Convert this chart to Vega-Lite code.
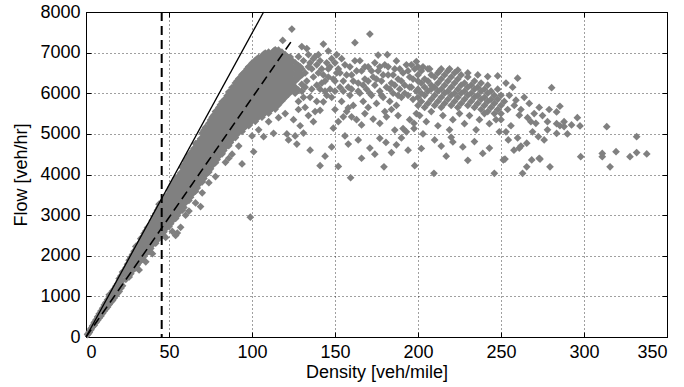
{
"$schema": "https://vega.github.io/schema/vega-lite/v6.json",
"autosize": {"type": "none"},
"width": 581,
"height": 325,
"padding": {"left": 86, "top": 12, "right": 17, "bottom": 50},
"background": "white",
"config": {
  "view": {"stroke": "#000", "strokeWidth": 1},
  "axis": {"labelFont": "Liberation Sans", "titleFont": "Liberation Sans", "labelFontSize": 18, "titleFontSize": 18, "titleFontWeight": "normal", "labelColor": "#000", "titleColor": "#000", "domainColor": "#000", "tickColor": "#000", "gridColor": "#000", "gridDash": [1, 3], "gridOpacity": 0.75, "gridWidth": 1, "format": "d"}
},
"datasets": {
"pts": [
{"d":1,"f":60},{"d":1,"f":70},{"d":2,"f":130},{"d":2,"f":110},{"d":3,"f":180},{"d":3,"f":210},{"d":4,"f":250},{"d":4,"f":280},{"d":5,"f":290},{"d":5,"f":340},{"d":5,"f":360},{"d":6,"f":360},{"d":6,"f":420},{"d":7,"f":410},{"d":7,"f":460},{"d":7,"f":500},{"d":8,"f":470},{"d":8,"f":530},{"d":8,"f":570},{"d":9,"f":520},{"d":9,"f":590},{"d":9,"f":640},{"d":10,"f":580},{"d":10,"f":650},{"d":10,"f":710},{"d":11,"f":640},{"d":11,"f":720},{"d":11,"f":790},{"d":12,"f":690},{"d":12,"f":770},{"d":12,"f":850},{"d":13,"f":740},{"d":13,"f":830},{"d":13,"f":920},{"d":14,"f":800},{"d":14,"f":890},{"d":14,"f":990},{"d":15,"f":860},{"d":15,"f":950},{"d":15,"f":1060},{"d":16,"f":900},{"d":16,"f":1010},{"d":16,"f":1130},{"d":17,"f":960},{"d":17,"f":1070},{"d":17,"f":1180},{"d":18,"f":1020},{"d":18,"f":1130},{"d":18,"f":1250},{"d":19,"f":1080},{"d":19,"f":1190},{"d":19,"f":1310},{"d":20,"f":1120},{"d":20,"f":1250},{"d":20,"f":1380},{"d":21,"f":1200},{"d":21,"f":1330},{"d":21,"f":1500},
{"d":22,"f":1260},{"d":22,"f":1400},{"d":22,"f":1540},{"d":22,"f":1600},
{"d":24,"f":1420},{"d":24,"f":1560},{"d":24,"f":1700},
{"d":26,"f":1480},{"d":26,"f":1620},{"d":26,"f":1770},{"d":26,"f":1890},
{"d":28,"f":1640},{"d":28,"f":1790},{"d":28,"f":1940},{"d":28,"f":2030},
{"d":30,"f":1700},{"d":30,"f":1850},{"d":30,"f":2000},{"d":30,"f":2150},
{"d":32,"f":1850},{"d":32,"f":2000},{"d":32,"f":2150},{"d":32,"f":2300},
{"d":34,"f":1920},{"d":34,"f":2070},{"d":34,"f":2220},{"d":34,"f":2370},{"d":34,"f":2460},
{"d":36,"f":2070},{"d":36,"f":2220},{"d":36,"f":2370},{"d":36,"f":2520},{"d":36,"f":2610},
{"d":38,"f":2110},{"d":38,"f":2260},{"d":38,"f":2410},{"d":38,"f":2560},{"d":38,"f":2710},
{"d":40,"f":2270},{"d":40,"f":2420},{"d":40,"f":2570},{"d":40,"f":2720},{"d":40,"f":2870},
{"d":42,"f":2310},{"d":42,"f":2460},{"d":42,"f":2610},{"d":42,"f":2760},{"d":42,"f":2910},{"d":42,"f":3040},
{"d":44,"f":2470},{"d":44,"f":2620},{"d":44,"f":2770},{"d":44,"f":2920},{"d":44,"f":3070},{"d":44,"f":3190},
{"d":46,"f":2510},{"d":46,"f":2660},{"d":46,"f":2810},{"d":46,"f":2960},{"d":46,"f":3110},{"d":46,"f":3260},{"d":46,"f":3330},
{"d":48,"f":2670},{"d":48,"f":2820},{"d":48,"f":2970},{"d":48,"f":3120},{"d":48,"f":3270},{"d":48,"f":3420},
{"d":50,"f":2720},{"d":50,"f":2870},{"d":50,"f":3020},{"d":50,"f":3170},{"d":50,"f":3320},{"d":50,"f":3470},{"d":50,"f":3610},
{"d":52,"f":2860},{"d":52,"f":3010},{"d":52,"f":3160},{"d":52,"f":3310},{"d":52,"f":3460},{"d":52,"f":3610},{"d":52,"f":3760},
{"d":54,"f":2920},{"d":54,"f":3070},{"d":54,"f":3220},{"d":54,"f":3370},{"d":54,"f":3520},{"d":54,"f":3670},{"d":54,"f":3820},{"d":54,"f":3910},
{"d":56,"f":3070},{"d":56,"f":3220},{"d":56,"f":3370},{"d":56,"f":3520},{"d":56,"f":3670},{"d":56,"f":3820},{"d":56,"f":3970},
{"d":58,"f":3120},{"d":58,"f":3270},{"d":58,"f":3420},{"d":58,"f":3570},{"d":58,"f":3720},{"d":58,"f":3870},{"d":58,"f":4020},{"d":58,"f":4170},
{"d":60,"f":3310},{"d":60,"f":3460},{"d":60,"f":3610},{"d":60,"f":3760},{"d":60,"f":3910},{"d":60,"f":4060},{"d":60,"f":4210},{"d":60,"f":4330},
{"d":62,"f":3360},{"d":62,"f":3510},{"d":62,"f":3660},{"d":62,"f":3810},{"d":62,"f":3960},{"d":62,"f":4110},{"d":62,"f":4260},{"d":62,"f":4410},{"d":62,"f":4480},
{"d":64,"f":3520},{"d":64,"f":3670},{"d":64,"f":3820},{"d":64,"f":3970},{"d":64,"f":4120},{"d":64,"f":4270},{"d":64,"f":4420},{"d":64,"f":4570},
{"d":66,"f":3590},{"d":66,"f":3740},{"d":66,"f":3890},{"d":66,"f":4040},{"d":66,"f":4190},{"d":66,"f":4340},{"d":66,"f":4490},{"d":66,"f":4640},{"d":66,"f":4760},
{"d":68,"f":3760},{"d":68,"f":3910},{"d":68,"f":4060},{"d":68,"f":4210},{"d":68,"f":4360},{"d":68,"f":4510},{"d":68,"f":4660},{"d":68,"f":4810},
{"d":70,"f":3820},{"d":70,"f":3970},{"d":70,"f":4120},{"d":70,"f":4270},{"d":70,"f":4420},{"d":70,"f":4570},{"d":70,"f":4720},{"d":70,"f":4870},{"d":70,"f":5020},
{"d":72,"f":3990},{"d":72,"f":4140},{"d":72,"f":4290},{"d":72,"f":4440},{"d":72,"f":4590},{"d":72,"f":4740},{"d":72,"f":4890},{"d":72,"f":5040},{"d":72,"f":5160},
{"d":74,"f":4060},{"d":74,"f":4210},{"d":74,"f":4360},{"d":74,"f":4510},{"d":74,"f":4660},{"d":74,"f":4810},{"d":74,"f":4960},{"d":74,"f":5110},{"d":74,"f":5260},
{"d":76,"f":4220},{"d":76,"f":4370},{"d":76,"f":4520},{"d":76,"f":4670},{"d":76,"f":4820},{"d":76,"f":4970},{"d":76,"f":5120},{"d":76,"f":5270},{"d":76,"f":5410},
{"d":78,"f":4290},{"d":78,"f":4440},{"d":78,"f":4590},{"d":78,"f":4740},{"d":78,"f":4890},{"d":78,"f":5040},{"d":78,"f":5190},{"d":78,"f":5340},{"d":78,"f":5490},{"d":78,"f":5550},
{"d":80,"f":4450},{"d":80,"f":4600},{"d":80,"f":4750},{"d":80,"f":4900},{"d":80,"f":5050},{"d":80,"f":5200},{"d":80,"f":5350},{"d":80,"f":5500},{"d":80,"f":5650},
{"d":82,"f":4510},{"d":82,"f":4660},{"d":82,"f":4810},{"d":82,"f":4960},{"d":82,"f":5110},{"d":82,"f":5260},{"d":82,"f":5410},{"d":82,"f":5560},{"d":82,"f":5710},{"d":82,"f":5790},
{"d":84,"f":4670},{"d":84,"f":4820},{"d":84,"f":4970},{"d":84,"f":5120},{"d":84,"f":5270},{"d":84,"f":5420},{"d":84,"f":5570},{"d":84,"f":5720},{"d":84,"f":5870},
{"d":86,"f":4710},{"d":86,"f":4860},{"d":86,"f":5010},{"d":86,"f":5160},{"d":86,"f":5310},{"d":86,"f":5460},{"d":86,"f":5610},{"d":86,"f":5760},{"d":86,"f":5910},{"d":86,"f":6030},
{"d":88,"f":4870},{"d":88,"f":5020},{"d":88,"f":5170},{"d":88,"f":5320},{"d":88,"f":5470},{"d":88,"f":5620},{"d":88,"f":5770},{"d":88,"f":5920},{"d":88,"f":6070},{"d":88,"f":6140},
{"d":90,"f":4910},{"d":90,"f":5060},{"d":90,"f":5210},{"d":90,"f":5360},{"d":90,"f":5510},{"d":90,"f":5660},{"d":90,"f":5810},{"d":90,"f":5960},{"d":90,"f":6110},{"d":90,"f":6250},
{"d":92,"f":5050},{"d":92,"f":5200},{"d":92,"f":5350},{"d":92,"f":5500},{"d":92,"f":5650},{"d":92,"f":5800},{"d":92,"f":5950},{"d":92,"f":6100},{"d":92,"f":6250},{"d":92,"f":6360},
{"d":94,"f":5060},{"d":94,"f":5210},{"d":94,"f":5360},{"d":94,"f":5510},{"d":94,"f":5660},{"d":94,"f":5810},{"d":94,"f":5960},{"d":94,"f":6110},{"d":94,"f":6260},{"d":94,"f":6410},{"d":94,"f":6460},
{"d":96,"f":5190},{"d":96,"f":5340},{"d":96,"f":5490},{"d":96,"f":5640},{"d":96,"f":5790},{"d":96,"f":5940},{"d":96,"f":6090},{"d":96,"f":6240},{"d":96,"f":6390},{"d":96,"f":6540},
{"d":98,"f":5200},{"d":98,"f":5350},{"d":98,"f":5500},{"d":98,"f":5650},{"d":98,"f":5800},{"d":98,"f":5950},{"d":98,"f":6100},{"d":98,"f":6250},{"d":98,"f":6400},{"d":98,"f":6550},{"d":98,"f":6650},
{"d":100,"f":5320},{"d":100,"f":5470},{"d":100,"f":5620},{"d":100,"f":5770},{"d":100,"f":5920},{"d":100,"f":6070},{"d":100,"f":6220},{"d":100,"f":6370},{"d":100,"f":6520},{"d":100,"f":6670},{"d":100,"f":6740},
{"d":102,"f":5310},{"d":102,"f":5460},{"d":102,"f":5610},{"d":102,"f":5760},{"d":102,"f":5910},{"d":102,"f":6060},{"d":102,"f":6210},{"d":102,"f":6360},{"d":102,"f":6510},{"d":102,"f":6660},{"d":102,"f":6810},
{"d":104,"f":5420},{"d":104,"f":5570},{"d":104,"f":5720},{"d":104,"f":5870},{"d":104,"f":6020},{"d":104,"f":6170},{"d":104,"f":6320},{"d":104,"f":6470},{"d":104,"f":6620},{"d":104,"f":6770},{"d":104,"f":6880},
{"d":106,"f":5410},{"d":106,"f":5560},{"d":106,"f":5710},{"d":106,"f":5860},{"d":106,"f":6010},{"d":106,"f":6160},{"d":106,"f":6310},{"d":106,"f":6460},{"d":106,"f":6610},{"d":106,"f":6760},{"d":106,"f":6910},
{"d":108,"f":5520},{"d":108,"f":5670},{"d":108,"f":5820},{"d":108,"f":5970},{"d":108,"f":6120},{"d":108,"f":6270},{"d":108,"f":6420},{"d":108,"f":6570},{"d":108,"f":6720},{"d":108,"f":6870},{"d":108,"f":6990},
{"d":110,"f":5510},{"d":110,"f":5660},{"d":110,"f":5810},{"d":110,"f":5960},{"d":110,"f":6110},{"d":110,"f":6260},{"d":110,"f":6410},{"d":110,"f":6560},{"d":110,"f":6710},{"d":110,"f":6860},{"d":110,"f":7010},
{"d":112,"f":5620},{"d":112,"f":5770},{"d":112,"f":5920},{"d":112,"f":6070},{"d":112,"f":6220},{"d":112,"f":6370},{"d":112,"f":6520},{"d":112,"f":6670},{"d":112,"f":6820},{"d":112,"f":6970},
{"d":114,"f":5610},{"d":114,"f":5760},{"d":114,"f":5910},{"d":114,"f":6060},{"d":114,"f":6210},{"d":114,"f":6360},{"d":114,"f":6510},{"d":114,"f":6660},{"d":114,"f":6810},{"d":114,"f":6960},{"d":114,"f":7070},
{"d":116,"f":5720},{"d":116,"f":5870},{"d":116,"f":6020},{"d":116,"f":6170},{"d":116,"f":6320},{"d":116,"f":6470},{"d":116,"f":6620},{"d":116,"f":6770},{"d":116,"f":6920},{"d":116,"f":7060},
{"d":118,"f":5810},{"d":118,"f":5960},{"d":118,"f":6110},{"d":118,"f":6260},{"d":118,"f":6410},{"d":118,"f":6560},{"d":118,"f":6710},{"d":118,"f":6860},{"d":118,"f":7010},
{"d":120,"f":5900},{"d":120,"f":6050},{"d":120,"f":6200},{"d":120,"f":6350},{"d":120,"f":6500},{"d":120,"f":6650},{"d":120,"f":6800},{"d":120,"f":6950},
{"d":122,"f":5980},{"d":122,"f":6130},{"d":122,"f":6280},{"d":122,"f":6430},{"d":122,"f":6580},{"d":122,"f":6730},{"d":122,"f":6880},
{"d":124,"f":6060},{"d":124,"f":6210},{"d":124,"f":6360},{"d":124,"f":6510},{"d":124,"f":6660},{"d":124,"f":6810},
{"d":126,"f":6150},{"d":126,"f":6300},{"d":126,"f":6450},{"d":126,"f":6600},{"d":126,"f":6750},
{"d":128,"f":6080},{"d":128,"f":6380},{"d":128,"f":6530},{"d":128,"f":6680},
{"d":130,"f":6220},{"d":130,"f":6450},{"d":130,"f":6600},
{"d":25,"f":1500},{"d":25,"f":1640},{"d":25,"f":1790},
{"d":27,"f":1560},{"d":27,"f":1710},{"d":27,"f":1860},{"d":27,"f":1960},
{"d":29,"f":1680},{"d":29,"f":1830},{"d":29,"f":1980},{"d":29,"f":2110},
{"d":31,"f":1780},{"d":31,"f":1930},{"d":31,"f":2080},{"d":31,"f":2230},
{"d":33,"f":1880},{"d":33,"f":2030},{"d":33,"f":2180},{"d":33,"f":2330},{"d":33,"f":2420},
{"d":35,"f":1990},{"d":35,"f":2140},{"d":35,"f":2290},{"d":35,"f":2440},{"d":35,"f":2550},
{"d":37,"f":2090},{"d":37,"f":2240},{"d":37,"f":2390},{"d":37,"f":2540},{"d":37,"f":2690},
{"d":39,"f":2180},{"d":39,"f":2330},{"d":39,"f":2480},{"d":39,"f":2630},{"d":39,"f":2780},
{"d":41,"f":2380},{"d":41,"f":2530},{"d":41,"f":2680},{"d":41,"f":2830},{"d":41,"f":2960},
{"d":43,"f":2390},{"d":43,"f":2540},{"d":43,"f":2690},{"d":43,"f":2840},{"d":43,"f":2990},{"d":43,"f":3120},
{"d":45,"f":2490},{"d":45,"f":2640},{"d":45,"f":2790},{"d":45,"f":2940},{"d":45,"f":3090},{"d":45,"f":3240},
{"d":47,"f":2590},{"d":47,"f":2740},{"d":47,"f":2890},{"d":47,"f":3040},{"d":47,"f":3190},{"d":47,"f":3340},
{"d":49,"f":2740},{"d":49,"f":2890},{"d":49,"f":3040},{"d":49,"f":3190},{"d":49,"f":3340},{"d":49,"f":3490},
{"d":51,"f":2790},{"d":51,"f":2940},{"d":51,"f":3090},{"d":51,"f":3240},{"d":51,"f":3390},{"d":51,"f":3540},{"d":51,"f":3680},
{"d":53,"f":2930},{"d":53,"f":3080},{"d":53,"f":3230},{"d":53,"f":3380},{"d":53,"f":3530},{"d":53,"f":3680},{"d":53,"f":3830},
{"d":55,"f":2990},{"d":55,"f":3140},{"d":55,"f":3290},{"d":55,"f":3440},{"d":55,"f":3590},{"d":55,"f":3740},{"d":55,"f":3890},
{"d":57,"f":3140},{"d":57,"f":3290},{"d":57,"f":3440},{"d":57,"f":3590},{"d":57,"f":3740},{"d":57,"f":3890},{"d":57,"f":4040},
{"d":59,"f":3190},{"d":59,"f":3340},{"d":59,"f":3490},{"d":59,"f":3640},{"d":59,"f":3790},{"d":59,"f":3940},{"d":59,"f":4090},{"d":59,"f":4240},
{"d":61,"f":3380},{"d":61,"f":3530},{"d":61,"f":3680},{"d":61,"f":3830},{"d":61,"f":3980},{"d":61,"f":4130},{"d":61,"f":4280},{"d":61,"f":4400},
{"d":63,"f":3440},{"d":63,"f":3590},{"d":63,"f":3740},{"d":63,"f":3890},{"d":63,"f":4040},{"d":63,"f":4190},{"d":63,"f":4340},{"d":63,"f":4490},
{"d":65,"f":3590},{"d":65,"f":3740},{"d":65,"f":3890},{"d":65,"f":4040},{"d":65,"f":4190},{"d":65,"f":4340},{"d":65,"f":4490},{"d":65,"f":4640},
{"d":67,"f":3670},{"d":67,"f":3820},{"d":67,"f":3970},{"d":67,"f":4120},{"d":67,"f":4270},{"d":67,"f":4420},{"d":67,"f":4570},{"d":67,"f":4720},
{"d":69,"f":3830},{"d":69,"f":3980},{"d":69,"f":4130},{"d":69,"f":4280},{"d":69,"f":4430},{"d":69,"f":4580},{"d":69,"f":4730},{"d":69,"f":4880},
{"d":71,"f":3900},{"d":71,"f":4050},{"d":71,"f":4200},{"d":71,"f":4350},{"d":71,"f":4500},{"d":71,"f":4650},{"d":71,"f":4800},{"d":71,"f":4950},{"d":71,"f":5090},
{"d":73,"f":4060},{"d":73,"f":4210},{"d":73,"f":4360},{"d":73,"f":4510},{"d":73,"f":4660},{"d":73,"f":4810},{"d":73,"f":4960},{"d":73,"f":5110},
{"d":75,"f":4140},{"d":75,"f":4290},{"d":75,"f":4440},{"d":75,"f":4590},{"d":75,"f":4740},{"d":75,"f":4890},{"d":75,"f":5040},{"d":75,"f":5190},{"d":75,"f":5340},
{"d":77,"f":4290},{"d":77,"f":4440},{"d":77,"f":4590},{"d":77,"f":4740},{"d":77,"f":4890},{"d":77,"f":5040},{"d":77,"f":5190},{"d":77,"f":5340},{"d":77,"f":5460},
{"d":79,"f":4370},{"d":79,"f":4520},{"d":79,"f":4670},{"d":79,"f":4820},{"d":79,"f":4970},{"d":79,"f":5120},{"d":79,"f":5270},{"d":79,"f":5420},{"d":79,"f":5570},
{"d":81,"f":4530},{"d":81,"f":4680},{"d":81,"f":4830},{"d":81,"f":4980},{"d":81,"f":5130},{"d":81,"f":5280},{"d":81,"f":5430},{"d":81,"f":5580},{"d":81,"f":5720},
{"d":83,"f":4590},{"d":83,"f":4740},{"d":83,"f":4890},{"d":83,"f":5040},{"d":83,"f":5190},{"d":83,"f":5340},{"d":83,"f":5490},{"d":83,"f":5640},{"d":83,"f":5790},
{"d":85,"f":4740},{"d":85,"f":4890},{"d":85,"f":5040},{"d":85,"f":5190},{"d":85,"f":5340},{"d":85,"f":5490},{"d":85,"f":5640},{"d":85,"f":5790},{"d":85,"f":5940},
{"d":87,"f":4790},{"d":87,"f":4940},{"d":87,"f":5090},{"d":87,"f":5240},{"d":87,"f":5390},{"d":87,"f":5540},{"d":87,"f":5690},{"d":87,"f":5840},{"d":87,"f":5990},
{"d":89,"f":4940},{"d":89,"f":5090},{"d":89,"f":5240},{"d":89,"f":5390},{"d":89,"f":5540},{"d":89,"f":5690},{"d":89,"f":5840},{"d":89,"f":5990},{"d":89,"f":6140},
{"d":91,"f":4990},{"d":91,"f":5140},{"d":91,"f":5290},{"d":91,"f":5440},{"d":91,"f":5590},{"d":91,"f":5740},{"d":91,"f":5890},{"d":91,"f":6040},{"d":91,"f":6190},{"d":91,"f":6300},
{"d":93,"f":5130},{"d":93,"f":5280},{"d":93,"f":5430},{"d":93,"f":5580},{"d":93,"f":5730},{"d":93,"f":5880},{"d":93,"f":6030},{"d":93,"f":6180},{"d":93,"f":6330},
{"d":95,"f":5140},{"d":95,"f":5290},{"d":95,"f":5440},{"d":95,"f":5590},{"d":95,"f":5740},{"d":95,"f":5890},{"d":95,"f":6040},{"d":95,"f":6190},{"d":95,"f":6340},{"d":95,"f":6490},
{"d":97,"f":5270},{"d":97,"f":5420},{"d":97,"f":5570},{"d":97,"f":5720},{"d":97,"f":5870},{"d":97,"f":6020},{"d":97,"f":6170},{"d":97,"f":6320},{"d":97,"f":6470},{"d":97,"f":6600},
{"d":99,"f":5280},{"d":99,"f":5430},{"d":99,"f":5580},{"d":99,"f":5730},{"d":99,"f":5880},{"d":99,"f":6030},{"d":99,"f":6180},{"d":99,"f":6330},{"d":99,"f":6480},{"d":99,"f":6630},
{"d":101,"f":5390},{"d":101,"f":5540},{"d":101,"f":5690},{"d":101,"f":5840},{"d":101,"f":5990},{"d":101,"f":6140},{"d":101,"f":6290},{"d":101,"f":6440},{"d":101,"f":6590},{"d":101,"f":6740},
{"d":103,"f":5390},{"d":103,"f":5540},{"d":103,"f":5690},{"d":103,"f":5840},{"d":103,"f":5990},{"d":103,"f":6140},{"d":103,"f":6290},{"d":103,"f":6440},{"d":103,"f":6590},{"d":103,"f":6740},{"d":103,"f":6840},
{"d":105,"f":5490},{"d":105,"f":5640},{"d":105,"f":5790},{"d":105,"f":5940},{"d":105,"f":6090},{"d":105,"f":6240},{"d":105,"f":6390},{"d":105,"f":6540},{"d":105,"f":6690},{"d":105,"f":6840},
{"d":107,"f":5490},{"d":107,"f":5640},{"d":107,"f":5790},{"d":107,"f":5940},{"d":107,"f":6090},{"d":107,"f":6240},{"d":107,"f":6390},{"d":107,"f":6540},{"d":107,"f":6690},{"d":107,"f":6840},{"d":107,"f":6960},
{"d":109,"f":5590},{"d":109,"f":5740},{"d":109,"f":5890},{"d":109,"f":6040},{"d":109,"f":6190},{"d":109,"f":6340},{"d":109,"f":6490},{"d":109,"f":6640},{"d":109,"f":6790},{"d":109,"f":6940},
{"d":111,"f":5590},{"d":111,"f":5740},{"d":111,"f":5890},{"d":111,"f":6040},{"d":111,"f":6190},{"d":111,"f":6340},{"d":111,"f":6490},{"d":111,"f":6640},{"d":111,"f":6790},{"d":111,"f":6940},
{"d":113,"f":5690},{"d":113,"f":5840},{"d":113,"f":5990},{"d":113,"f":6140},{"d":113,"f":6290},{"d":113,"f":6440},{"d":113,"f":6590},{"d":113,"f":6740},{"d":113,"f":6890},{"d":113,"f":7040},
{"d":115,"f":5690},{"d":115,"f":5840},{"d":115,"f":5990},{"d":115,"f":6140},{"d":115,"f":6290},{"d":115,"f":6440},{"d":115,"f":6590},{"d":115,"f":6740},{"d":115,"f":6890},{"d":115,"f":7040},
{"d":117,"f":5790},{"d":117,"f":5940},{"d":117,"f":6090},{"d":117,"f":6240},{"d":117,"f":6390},{"d":117,"f":6540},{"d":117,"f":6690},{"d":117,"f":6840},{"d":117,"f":6990},
{"d":119,"f":5880},{"d":119,"f":6030},{"d":119,"f":6180},{"d":119,"f":6330},{"d":119,"f":6480},{"d":119,"f":6630},{"d":119,"f":6780},{"d":119,"f":6930},
{"d":121,"f":5980},{"d":121,"f":6130},{"d":121,"f":6280},{"d":121,"f":6430},{"d":121,"f":6580},{"d":121,"f":6730},{"d":121,"f":6880},
{"d":123,"f":6140},{"d":123,"f":6290},{"d":123,"f":6440},{"d":123,"f":6590},{"d":123,"f":6740},{"d":123,"f":6890},
{"d":32,"f":1650},{"d":36,"f":1850},{"d":40,"f":2050},{"d":48,"f":2450},{"d":52,"f":2600},{"d":55,"f":2560},{"d":57,"f":2700},{"d":54,"f":2500},{"d":60,"f":3000},{"d":66,"f":3300},{"d":70,"f":3550},{"d":74,"f":3800},{"d":78,"f":3950},{"d":84,"f":4300},{"d":88,"f":4500},{"d":92,"f":4700},{"d":99,"f":2950},{"d":100,"f":4950},{"d":104,"f":5100},{"d":110,"f":5300},{"d":116,"f":5400},{"d":120,"f":5500},{"d":86,"f":4400},{"d":62,"f":3100},{"d":14,"f":1040},{"d":20,"f":1440},{"d":30,"f":2230},{"d":44,"f":3270},{"d":94,"f":4260},{"d":69,"f":3210},{"d":101,"f":4560},{"d":107,"f":4930},{"d":113,"f":5015},
{"d":130,"f":7150},{"d":133,"f":7100},{"d":128,"f":6900},{"d":135,"f":6750},{"d":138,"f":6900},{"d":140,"f":6500},{"d":133,"f":6300},{"d":136,"f":6100},{"d":142,"f":6250},{"d":131,"f":5900},{"d":139,"f":5800},{"d":145,"f":5950},{"d":128,"f":5600},{"d":134,"f":5450},{"d":129,"f":5200},{"d":137,"f":5300},{"d":141,"f":5580},{"d":143,"f":5790},{"d":147,"f":6650},{"d":150,"f":6750},{"d":152,"f":6600},{"d":146,"f":6400},{"d":143,"f":7212},{"d":146,"f":7040},{"d":124,"f":7580},{"d":118.5,"f":7300},{"d":122,"f":4850},{"d":126,"f":4950},{"d":131,"f":5020},{"d":141,"f":4217},{"d":148,"f":4680},{"d":149,"f":5140},{"d":152,"f":5300},{"d":155,"f":5420},{"d":158,"f":5640},{"d":160,"f":5420},{"d":144,"f":4450},{"d":135,"f":4600},{"d":127,"f":4750},{"d":121,"f":5000},{"d":125,"f":5350},
{"d":127,"f":6400},{"d":129,"f":6650},{"d":131,"f":6800},{"d":132,"f":6500},{"d":134,"f":6950},{"d":136,"f":6600},{"d":137,"f":6400},{"d":139,"f":6700},{"d":140,"f":6950},{"d":141,"f":6100},{"d":142,"f":6600},{"d":144,"f":6300},{"d":145,"f":6750},{"d":147,"f":6100},{"d":148,"f":5900},{"d":149,"f":6350},{"d":150,"f":6050},{"d":126,"f":6000},{"d":128,"f":5800},{"d":132,"f":5650},{"d":135,"f":5900},{"d":138,"f":5550},{"d":130,"f":6050},
{"d":132,"f":6150},{"d":134,"f":6650},{"d":137,"f":6850},{"d":139,"f":6200},{"d":141,"f":6800},{"d":143,"f":6450},{"d":144,"f":6050},{"d":146,"f":6600},{"d":148,"f":6850},{"d":150,"f":6300},{"d":151,"f":6500},{"d":153,"f":6150},{"d":154,"f":6850},{"d":155,"f":6050},{"d":157,"f":6450},{"d":159,"f":6650},{"d":160,"f":6100},{"d":161,"f":6300},{"d":163,"f":6550},{"d":164,"f":6050},{"d":165,"f":6800},{"d":167,"f":6200},{"d":168,"f":6650},{"d":170,"f":6300},{"d":171,"f":6000},{"d":172,"f":6550},{"d":174,"f":6750},{"d":175,"f":6350},{"d":177,"f":6650},{"d":178,"f":5950},{"d":179,"f":6450},{"d":182,"f":6650},{"d":183,"f":6100},{"d":185,"f":6450},{"d":186,"f":6200},{"d":188,"f":5950},{"d":189,"f":6600},{"d":190,"f":6300},{"d":192,"f":6000},{"d":194,"f":6550},{"d":195,"f":6150},{"d":196,"f":6700},{"d":197,"f":6350},{"d":199,"f":6050},{"d":200,"f":6650},
{"d":151,"f":6950},{"d":153,"f":6500},{"d":155,"f":6300},{"d":156,"f":6700},{"d":158,"f":6150},{"d":159,"f":5950},{"d":160,"f":6450},{"d":162,"f":6800},{"d":162,"f":7245},{"d":164,"f":6250},{"d":165,"f":6000},{"d":166,"f":6550},{"d":167,"f":5800},{"d":168,"f":6350},{"d":169,"f":6100},{"d":170,"f":6650},{"d":171,"f":7458},{"d":172,"f":5950},{"d":173,"f":6400},{"d":174,"f":6200},{"d":175,"f":5750},{"d":176,"f":6940},{"d":176,"f":6550},{"d":177,"f":6050},{"d":178,"f":6300},{"d":179,"f":5900},{"d":180,"f":6700},{"d":181,"f":6150},{"d":181.5,"f":6950},{"d":182,"f":6450},{"d":183,"f":5800},{"d":184,"f":6250},{"d":185,"f":6000},{"d":186,"f":6600},{"d":187,"f":6795},{"d":187,"f":5700},{"d":188,"f":6350},{"d":189,"f":6100},{"d":190,"f":5900},{"d":191,"f":6500},{"d":192,"f":6200},{"d":193,"f":6700},{"d":194,"f":5950},{"d":195,"f":6400},{"d":196,"f":6150},{"d":197,"f":5850},{"d":198,"f":6600},{"d":199,"f":6780},{"d":200,"f":6300},
{"d":150,"f":5600},{"d":154,"f":5800},{"d":157,"f":5550},{"d":161,"f":5700},{"d":163,"f":5350},{"d":166,"f":5220},{"d":168,"f":5500},{"d":170,"f":5650},{"d":173,"f":5366},{"d":177,"f":5260},{"d":180,"f":5550},{"d":181,"f":5420},{"d":184,"f":5600},{"d":186,"f":5095},{"d":188,"f":5450},{"d":191,"f":5130},{"d":193,"f":5050},{"d":195,"f":5350},{"d":197.6,"f":5130},{"d":197.6,"f":5260},{"d":199,"f":5500},{"d":156,"f":4950},{"d":159.4,"f":3920},{"d":158,"f":4750},{"d":164,"f":4850},{"d":171,"f":4650},{"d":177,"f":4890},{"d":180.7,"f":4790},{"d":179.5,"f":4190},{"d":184,"f":4540},{"d":187,"f":4730},{"d":190,"f":4900},{"d":198,"f":4217},{"d":152,"f":4200},{"d":166,"f":4400},{"d":174,"f":4500},{"d":194,"f":4600},
{"d":200,"f":5700},{"d":200,"f":5900},{"d":200,"f":6100},{"d":200,"f":6450},{"d":202,"f":5800},{"d":202,"f":6000},{"d":202,"f":6250},{"d":202,"f":6550},{"d":204,"f":5650},{"d":204,"f":5950},{"d":204,"f":6150},{"d":204,"f":6350},{"d":206,"f":5750},{"d":206,"f":6050},{"d":206,"f":6300},{"d":206,"f":6600},{"d":208,"f":5850},{"d":208,"f":6100},{"d":208,"f":6200},{"d":208,"f":6450},{"d":210,"f":5700},{"d":210,"f":5950},{"d":210,"f":6150},{"d":210,"f":6400},{"d":212,"f":5800},{"d":212,"f":6050},{"d":212,"f":6250},{"d":212,"f":6500},{"d":214,"f":5650},{"d":214,"f":5900},{"d":214,"f":6100},{"d":214,"f":6350},{"d":214,"f":6600},{"d":216,"f":5750},{"d":216,"f":6000},{"d":216,"f":6200},{"d":216,"f":6450},{"d":218,"f":5850},{"d":218,"f":6050},{"d":218,"f":6300},{"d":218,"f":6550},{"d":220,"f":5700},{"d":220,"f":5950},{"d":220,"f":6150},{"d":220,"f":6400},{"d":222,"f":5800},{"d":222,"f":6000},{"d":222,"f":6250},{"d":222,"f":6500},{"d":224,"f":5650},{"d":224,"f":5900},{"d":224,"f":6100},{"d":224,"f":6350},{"d":226,"f":5750},{"d":226,"f":6000},{"d":226,"f":6200},{"d":226,"f":6450},{"d":228,"f":5850},{"d":228,"f":6050},{"d":228,"f":6250},{"d":230,"f":5700},{"d":230,"f":5950},{"d":230,"f":6150},{"d":230,"f":6400},{"d":232,"f":5800},{"d":232,"f":6000},{"d":232,"f":6200},{"d":234,"f":5650},{"d":234,"f":5900},{"d":234,"f":6100},{"d":234,"f":6300},{"d":236,"f":5750},{"d":236,"f":5950},{"d":236,"f":6150},{"d":238,"f":5600},{"d":238,"f":5850},{"d":238,"f":6050},{"d":238,"f":6250},{"d":240,"f":5700},{"d":240,"f":5900},{"d":240,"f":6100},{"d":242,"f":5550},{"d":242,"f":5800},{"d":242,"f":6000},{"d":242,"f":6200},{"d":244,"f":5650},{"d":244,"f":5850},{"d":244,"f":6050},{"d":246,"f":5500},{"d":246,"f":5750},{"d":246,"f":5950},{"d":248,"f":5600},{"d":248,"f":5850},{"d":248,"f":6100},{"d":250,"f":5500},{"d":250,"f":5700},{"d":250,"f":5950},
{"d":203,"f":6650},{"d":207,"f":6600},{"d":213,"f":6550},{"d":219,"f":6600},{"d":224,"f":6570},{"d":230,"f":6500},{"d":236,"f":6450},{"d":242,"f":6410},{"d":248,"f":6425},{"d":253,"f":6250},{"d":260,"f":6370},{"d":257,"f":6150},
{"d":201,"f":5450},{"d":205,"f":5300},{"d":208,"f":5550},{"d":212,"f":5200},{"d":215,"f":5450},{"d":219,"f":5100},{"d":221,"f":5350},{"d":225,"f":5500},{"d":228,"f":5250},{"d":231,"f":5450},{"d":235,"f":5100},{"d":237,"f":5350},{"d":240,"f":5500},{"d":243,"f":5250},{"d":247,"f":5350},{"d":249,"f":5050},{"d":203,"f":5000},{"d":210,"f":4850},{"d":214,"f":4700},{"d":220,"f":4915},{"d":227,"f":4680},{"d":234,"f":4810},{"d":221,"f":4800},{"d":239,"f":4520},{"d":243,"f":4650},{"d":246,"f":4030},{"d":209.6,"f":4030},{"d":202,"f":4640},{"d":217,"f":4450},{"d":230,"f":4350},
{"d":252,"f":5800},{"d":254,"f":5600},{"d":255,"f":5950},{"d":258,"f":5700},{"d":259,"f":5830},{"d":261,"f":5460},{"d":262,"f":5600},{"d":264,"f":5900},{"d":266,"f":5400},{"d":267,"f":5750},{"d":268,"f":5300},{"d":270,"f":5500},{"d":271,"f":5260},{"d":273,"f":5650},{"d":275,"f":5450},{"d":278,"f":5300},{"d":278,"f":5100},{"d":279,"f":5600},{"d":283.5,"f":5540},{"d":285.5,"f":5680},{"d":283.5,"f":5250},{"d":283.5,"f":5010},{"d":288,"f":5180},{"d":288,"f":5300},{"d":292.5,"f":5220},{"d":297.6,"f":5195},{"d":285.5,"f":5200},{"d":272.5,"f":4930},{"d":260,"f":4900},{"d":261,"f":4650},{"d":262,"f":4700},{"d":265.5,"f":4770},{"d":268.5,"f":4357},{"d":273.5,"f":4380},{"d":252.4,"f":4380},{"d":251.4,"f":4357},{"d":254.4,"f":4850},{"d":257.8,"f":4600},{"d":263,"f":4030},{"d":265.5,"f":4190},{"d":279.5,"f":4190},{"d":273,"f":4400},{"d":298,"f":4440},{"d":280.5,"f":6137},{"d":256,"f":5200},{"d":250,"f":5350},{"d":253,"f":5050},{"d":269,"f":5050},{"d":276,"f":4850},{"d":290,"f":5000},{"d":296,"f":5400},
{"d":313.7,"f":5177},{"d":331.7,"f":4930},{"d":319.3,"f":4561},{"d":311,"f":4520},{"d":311,"f":4440},{"d":327.7,"f":4440},{"d":331.7,"f":4540},{"d":337.8,"f":4505},{"d":315.7,"f":4190}
],
"lines": [
{"d":0,"f":0,"s":"free"},{"d":107,"f":8000,"s":"free"},
{"d":0,"f":0,"s":"fit"},{"d":123.5,"f":7265,"s":"fit"}
]
},
"layer": [
  {
    "data": {"name": "pts"},
    "mark": {"type": "point", "shape": "diamond", "filled": true, "color": "#808080", "size": 60, "opacity": 1, "strokeWidth": 0},
    "encoding": {
      "x": {"field": "d", "type": "quantitative", "scale": {"domain": [0, 350], "nice": false}, "axis": {"title": "Density [veh/mile]", "values": [0,50,100,150,200,250,300,350], "tickSize": -5, "labelPadding": 11, "titlePadding": 2, "grid": true, "domain": false}},
      "y": {"field": "f", "type": "quantitative", "scale": {"domain": [0, 8000], "nice": false}, "axis": {"title": "Flow [veh/hr]", "values": [0,1000,2000,3000,4000,5000,6000,7000,8000], "tickSize": -5, "labelPadding": 11, "titlePadding": 9, "grid": true, "domain": false}}
    }
  },
  {
    "data": {"name": "lines"},
    "transform": [{"filter": "datum.s === 'free'"}],
    "mark": {"type": "line", "color": "#000", "strokeWidth": 1.3},
    "encoding": {
      "x": {"field": "d", "type": "quantitative", "axis": null},
      "y": {"field": "f", "type": "quantitative", "axis": null}
    }
  },
  {
    "data": {"name": "lines"},
    "transform": [{"filter": "datum.s === 'fit'"}],
    "mark": {"type": "line", "color": "#000", "strokeWidth": 1.6, "strokeDash": [9, 5]},
    "encoding": {
      "x": {"field": "d", "type": "quantitative", "axis": null},
      "y": {"field": "f", "type": "quantitative", "axis": null}
    }
  },
  {
    "data": {"values": [{"d": 45.6}]},
    "mark": {"type": "rule", "color": "#000", "strokeWidth": 2, "strokeDash": [9, 5]},
    "encoding": {
      "x": {"field": "d", "type": "quantitative", "axis": null}
    }
  },
  {
    "data": {"values": [{"d": 0, "f": 0}]},
    "mark": {"type": "point", "opacity": 0},
    "encoding": {
      "x": {"field": "d", "type": "quantitative", "axis": {"orient": "top", "title": null, "labels": false, "grid": false, "domain": false, "tickSize": -5, "values": [0,50,100,150,200,250,300,350]}},
      "y": {"field": "f", "type": "quantitative", "axis": {"orient": "right", "title": null, "labels": false, "grid": false, "domain": false, "tickSize": -5, "values": [0,1000,2000,3000,4000,5000,6000,7000,8000]}}
    }
  }
],
"resolve": {"axis": {"x": "independent", "y": "independent"}}
}
